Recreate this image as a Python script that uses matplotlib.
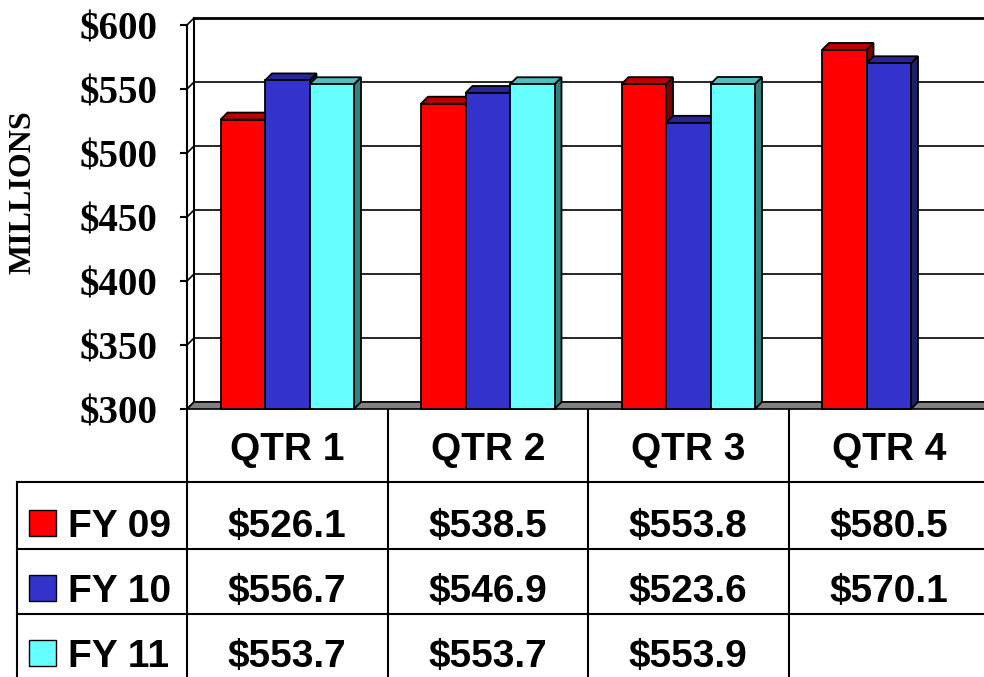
import matplotlib
matplotlib.use("Agg")
import matplotlib.pyplot as plt
from matplotlib.patches import Polygon, Rectangle

quarters = ["QTR 1", "QTR 2", "QTR 3", "QTR 4"]
series = ["FY 09", "FY 10", "FY 11"]
fy09 = [526.1, 538.5, 553.8, 580.5]
fy10 = [556.7, 546.9, 523.6, 570.1]
fy11 = [553.7, 553.7, 553.9, None]
values = [fy09, fy10, fy11]
yticks = [300, 350, 400, 450, 500, 550, 600]

# front / top / side colours for each series
front = ["#ff0000", "#3333cc", "#66ffff"]
top = ["#c00000", "#262699", "#4dbfbf"]
side = ["#800000", "#1f1f66", "#338080"]

W, H = 984, 677
fig = plt.figure(figsize=(W / 100, H / 100), dpi=100)

# chart area (front plane), pixels: x 187..989, y 25..409
px_left, px_top, px_bot, cat_px = 187, 25, 409, 200.5
ax = fig.add_axes([px_left / W, (H - px_bot) / H, 4 * cat_px / W, (px_bot - px_top) / H])
ax.set_xlim(0, 4)
ax.set_ylim(300, 600)
for s in ax.spines.values():
    s.set_visible(False)
ax.set_xticks([])
ax.set_yticks(yticks)
ax.set_yticklabels(["$%d" % v for v in yticks], fontsize=28,
                   family="Liberation Serif", fontweight="bold")
ax.tick_params(axis="y", length=5, width=1.5, pad=16)

depth = 7
dx = depth / cat_px
dy = depth / ((px_bot - px_top) / 300)

# back wall gridlines and side-wall diagonals
for v in yticks:
    lw = 2 if v == 600 else 1.2
    ax.plot([dx, 4 + dx], [v + dy, v + dy], color="black", lw=lw, clip_on=False, zorder=1)
    ax.plot([0, dx], [v, v + dy], color="black", lw=1.2, clip_on=False, zorder=1)
ax.plot([0, 0], [300, 600], color="black", lw=1.5, clip_on=False, zorder=1)
ax.plot([dx, dx], [300 + dy, 600 + dy], color="black", lw=1.5, clip_on=False, zorder=1)

# floor
ax.add_patch(Polygon([(0, 300), (4.2, 300), (4.2 + dx, 300 + dy), (dx, 300 + dy)],
                     closed=True, facecolor="#808080", edgecolor="black", lw=1.2,
                     clip_on=False, zorder=2))

# bars
bw = 44.5 / cat_px
z = 3
for i in range(len(quarters)):
    for j, vals in enumerate(values):
        v = vals[i]
        if v is None:
            continue
        x0 = i + (1 - 3 * bw) / 2 + j * bw
        x1 = x0 + bw
        ax.add_patch(Polygon([(x1, 300), (x1 + dx, 300 + dy), (x1 + dx, v + dy), (x1, v)],
                             closed=True, facecolor=side[j], edgecolor="black", lw=1.3,
                             clip_on=False, zorder=z))
        ax.add_patch(Polygon([(x0, v), (x1, v), (x1 + dx, v + dy), (x0 + dx, v + dy)],
                             closed=True, facecolor=top[j], edgecolor="black", lw=1.3,
                             clip_on=False, zorder=z))
        b = ax.bar(x0, v - 300, bottom=300, width=bw, align="edge", color=front[j],
                   edgecolor="black", lw=1.3, zorder=z + 0.5, clip_on=False)
        z += 1

fig.text(23 / W, 1 - 192 / H, "MILLIONS", rotation=90, fontsize=23,
         family="Liberation Serif", fontweight="bold", ha="center", va="center")

# data table drawn in pixel coordinates
tb = fig.add_axes([0, 0, 1, 1], zorder=-1)
tb.set_xlim(0, W)
tb.set_ylim(H, 0)
tb.axis("off")
col_edges = [px_left + k * cat_px for k in range(5)]
row_edges = [409, 482, 549, 614, 680]
lk = dict(color="black", lw=1.5)
for y in row_edges[1:4]:
    tb.plot([17, W + 5], [y, y], **lk)
for x in col_edges[:4]:
    tb.plot([x, x], [row_edges[0], row_edges[-1]], **lk)
tb.plot([17, 17], [row_edges[1], row_edges[-1]], **lk)

tfont = dict(fontsize=28, family="Liberation Sans", fontweight="bold")
for i, q in enumerate(quarters):
    tb.text(col_edges[i] + cat_px / 2, 460, q, ha="center", va="baseline", **tfont)
baselines = [537, 602, 667]
for j, name in enumerate(series):
    yb = baselines[j]
    tb.add_patch(Rectangle((29, yb - 27), 27, 26, facecolor=front[j],
                           edgecolor="black", lw=1))
    tb.text(68, yb, name, ha="left", va="baseline", **tfont)
    for i, v in enumerate(values[j]):
        if v is None:
            continue
        tb.text(col_edges[i] + cat_px / 2, yb, "$%.1f" % v, ha="center",
                va="baseline", **tfont)

fig.savefig("out.png", dpi=100)
